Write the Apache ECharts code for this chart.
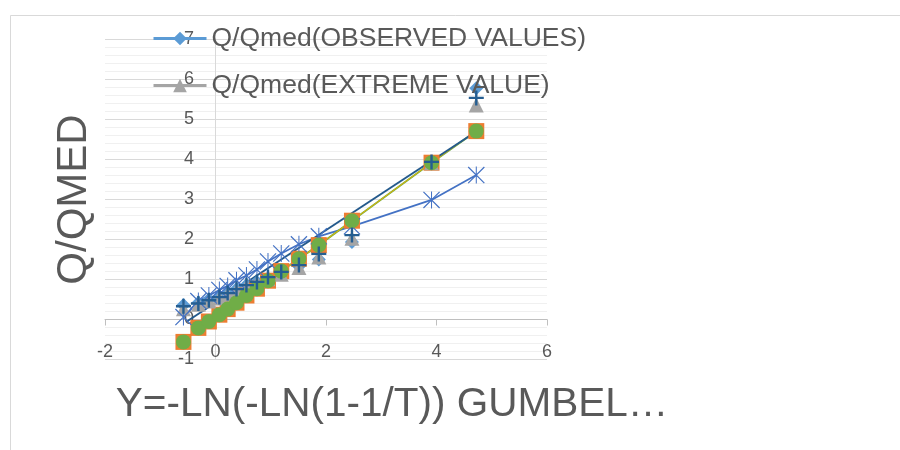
<!DOCTYPE html>
<html>
<head>
<meta charset="utf-8">
<script src="https://cdn.jsdelivr.net/npm/echarts@6/dist/echarts.min.js"></script>
<style>
  html, body { margin: 0; padding: 0; background: #ffffff; }
  #chart { width: 900px; height: 450px; }
</style>
</head>
<body>
<div id="chart"></div>
<script>
// Gumbel reduced variate of each ranked flood
const reducedVariate = [-0.58, -0.31, -0.12, 0.07, 0.22, 0.38, 0.56, 0.75, 0.95, 1.19, 1.51, 1.87, 2.47, 3.91, 4.72];

// Q/Qmed per series, same order as reducedVariate
const observedValues = [0.36, 0.42, 0.50, 0.58, 0.66, 0.76, 0.86, 0.94, 1.03, 1.15, 1.33, 1.50, 1.94, 3.90, 5.78];
const squareSeries   = [-0.56, -0.21, -0.05, 0.12, 0.26, 0.42, 0.60, 0.77, 0.97, 1.21, 1.52, 1.86, 2.47, 3.92, 4.71];
const extremeValue   = [0.27, 0.38, 0.46, 0.54, 0.63, 0.73, 0.83, 0.92, 1.02, 1.13, 1.30, 1.56, 2.03, 3.92, 5.36];
const goldSeries     = [-0.56, -0.21, -0.05, 0.12, 0.26, 0.42, 0.60, 0.77, 0.97, 1.21, 1.52, 1.86, 2.47, 3.92, 4.71];
const starSeries     = [0.06, 0.46, 0.60, 0.74, 0.84, 0.98, 1.10, 1.25, 1.45, 1.65, 1.88, 2.08, 2.33, 2.99, 3.61];
const circleSeries   = [-0.56, -0.21, -0.05, 0.12, 0.26, 0.42, 0.60, 0.77, 0.97, 1.21, 1.52, 1.86, 2.47, 3.92, 4.71];
const plusSeries     = [0.33, 0.40, 0.48, 0.56, 0.66, 0.76, 0.86, 0.94, 1.06, 1.19, 1.36, 1.64, 2.11, 3.94, 5.54];

// straight fitted line: end points
const fitX = [-0.52, 4.72];
const fitY = [-0.05, 4.70];

// axis ranges
const xTicks = { min: -2, max: 6, step: 2 };
const yTicks = { min: -1, max: 7, step: 1 };

const legendNames = ['Q/Qmed(OBSERVED VALUES)', 'Q/Qmed(EXTREME VALUE)'];
const xTitle = 'Y=-LN(-LN(1-1/T)) GUMBEL…';
const yTitle = 'Q/QMED';

const pairs = (ys) => reducedVariate.map((x, i) => [x, ys[i]]);

const FONT = 'Liberation Sans, Arial, sans-serif';
const TEXT = '#595959';

// filled glyph paths on a 20x20 box
const PLUS = 'path://M8.4,0H11.6V8.4H20V11.6H11.6V20H8.4V11.6H0V8.4H8.4Z';
const STAR = 'path://M0,1.0L1.0,0L20,19.0L19.0,20Z M19.0,0L20,1.0L1.0,20L0,19.0Z M9.4,0H10.6V20H9.4Z';

const markerSeries = (name, ys, symbol, size, color, extra) => Object.assign({
  name: name,
  type: 'line',
  data: pairs(ys),
  symbol: symbol,
  symbolSize: size,
  showAllSymbol: true,
  itemStyle: { color: color },
  lineStyle: { width: 0, color: color },
  emphasis: { disabled: true },
  silent: true
}, extra || {});

const chart = echarts.init(document.getElementById('chart'), null, { renderer: 'canvas' });

chart.setOption({
  animation: false,
  backgroundColor: '#ffffff',
  textStyle: { fontFamily: FONT },
  graphic: [{
    type: 'rect',
    shape: { x: 10.5, y: 15.5, width: 900, height: 450 },
    style: { fill: 'none', stroke: '#D9D9D9', lineWidth: 1 },
    silent: true,
    z: -10
  }],
  grid: { left: 105, top: 39.5, width: 442, height: 320, containLabel: false, outerBoundsMode: 'none' },
  legend: {
    data: legendNames,
    orient: 'vertical',
    left: 152,
    top: 25,
    padding: 0,
    itemWidth: 53,
    itemHeight: 17,
    itemGap: 20,
    lineStyle: { width: 3 },
    textStyle: { color: TEXT, fontSize: 26.5, fontFamily: FONT },
    selectedMode: false
  },
  xAxis: {
    type: 'value',
    min: xTicks.min,
    max: xTicks.max,
    interval: xTicks.step,
    axisLine: { onZero: true, lineStyle: { color: '#BFBFBF', width: 1 } },
    axisTick: { show: true, length: 6, lineStyle: { color: '#BFBFBF' } },
    axisLabel: { margin: -16, fontSize: 18, color: TEXT, fontFamily: FONT },
    splitLine: { show: false },
    name: xTitle,
    nameLocation: 'middle',
    nameGap: 25,
    nameTextStyle: { fontSize: 40.5, color: TEXT, fontFamily: FONT, padding: [0, 0, 0, 132] }
  },
  yAxis: {
    type: 'value',
    min: yTicks.min,
    max: yTicks.max,
    interval: yTicks.step,
    axisLine: { show: true, onZero: true, lineStyle: { color: '#D9D9D9', width: 1 } },
    axisTick: { show: false },
    axisLabel: { margin: -89, fontSize: 18, color: TEXT, fontFamily: FONT },
    splitLine: { show: true, lineStyle: { color: '#D9D9D9', width: 1 } },
    minorTick: { show: false, splitNumber: 5 },
    minorSplitLine: { show: true, lineStyle: { color: '#F0F0F0', width: 1 } },
    name: yTitle,
    nameLocation: 'middle',
    nameRotate: 90,
    nameGap: 9.5,
    nameTextStyle: { fontSize: 42, color: TEXT, fontFamily: FONT }
  },
  series: [
    markerSeries(legendNames[0], observedValues, 'diamond', 14, '#5B9BD5'),
    markerSeries('S2', squareSeries, 'rect', 16, '#ED7D31'),
    markerSeries(legendNames[1], extremeValue, 'triangle', 15, '#A5A5A5'),
    markerSeries('S5', starSeries, STAR, 17, '#4472C4', {
      lineStyle: { width: 1.75, color: '#4472C4' }
    }),
    markerSeries('S6', circleSeries, 'circle', 15, '#70AD47', {
      lineStyle: { width: 2, color: '#70AD47' }
    }),
    markerSeries('S4', goldSeries, 'none', 1, '#FFC000', {
      lineStyle: { width: 1, color: '#E8B400' }
    }),
    {
      name: 'fit',
      type: 'line',
      data: fitX.map((x, i) => [x, fitY[i]]),
      symbol: 'none',
      lineStyle: { width: 2, color: '#245A8C' },
      emphasis: { disabled: true },
      silent: true
    },
    markerSeries('S7', plusSeries, PLUS, 15, '#255E91')
  ]
});
</script>
</body>
</html>
